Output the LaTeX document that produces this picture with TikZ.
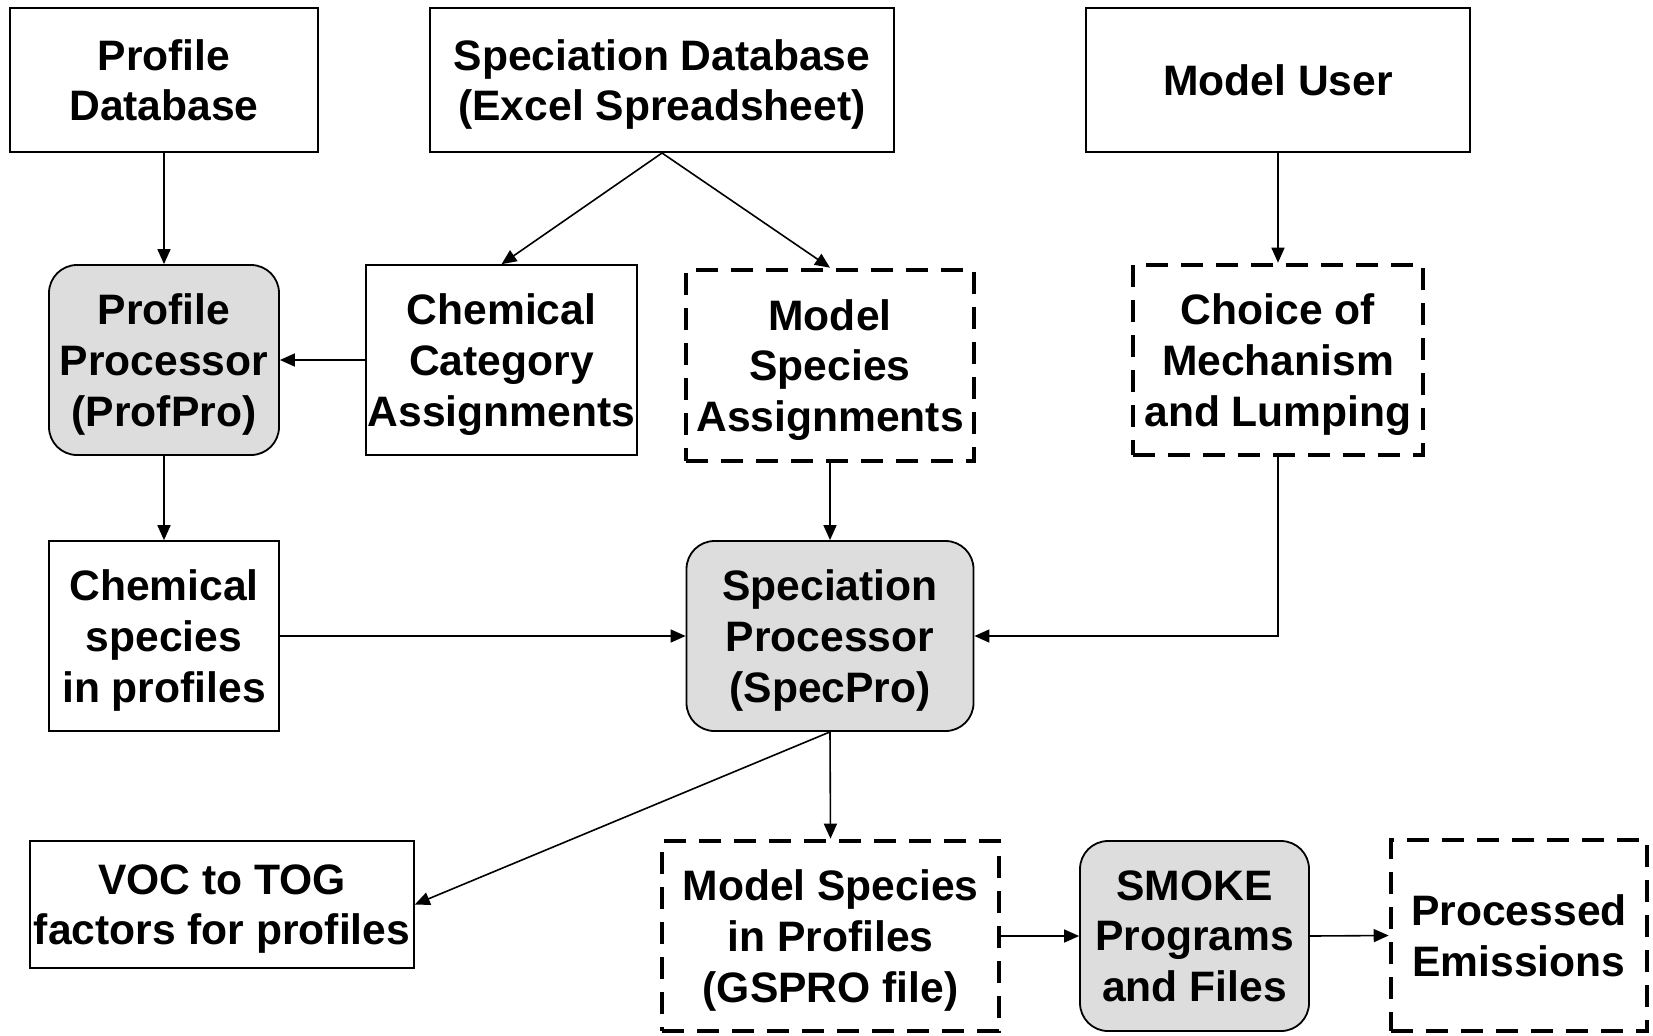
\documentclass[tikz,border=0pt]{standalone}
\usepackage{fontspec}
\setmainfont{Liberation Sans}
\usetikzlibrary{arrows.meta}
\newcommand\diagfont{\fontsize{21.3}{25.3}\selectfont\bfseries}
\begin{document}
\begin{tikzpicture}[x=0.5pt,y=-0.5pt,
  base/.style={inner sep=0pt, align=center, font=\diagfont, text depth=-2pt},
  plainbox/.style={base, draw, line width=1pt},
  thinbox/.style={base, draw, line width=0.8pt},
  procbox/.style={base, draw, line width=0.9pt, fill=gray!27, rounded corners=14pt},
  dashbox/.style={base, draw, line width=2.3pt, dash pattern=on 11pt off 6.5pt},
  flow/.style={line width=0.8pt, -{Triangle[length=7.5pt,width=6.5pt]}}]
\useasboundingbox (0,0) rectangle (1653,1035);

% sources
\node[plainbox, minimum width=154pt, minimum height=72pt] (pdb) at (164,80) {Profile\\Database};
\node[plainbox, minimum width=232pt, minimum height=72pt] (sdb) at (662,80) {Speciation Database\\(Excel Spreadsheet)};
\node[plainbox, minimum width=192pt, minimum height=72pt] (mu) at (1278,80) {Model User};

% second row
\node[procbox, minimum width=115pt, minimum height=95pt] (pp) at (164,360) {Profile\\Processor\\(ProfPro)};
\node[thinbox, minimum width=135.5pt, minimum height=95pt] (cca) at (501.5,360) {Chemical\\Category\\Assignments};
\node[dashbox, minimum width=144pt, minimum height=95.5pt] (msa) at (830,365.5) {Model\\Species\\Assignments};
\node[dashbox, minimum width=145pt, minimum height=95pt] (cml) at (1278,360) {Choice of\\Mechanism\\and Lumping};

% third row
\node[thinbox, minimum width=115pt, minimum height=95pt] (csp) at (164,636) {Chemical\\species\\in profiles};
\node[procbox, minimum width=143.5pt, minimum height=95pt] (spp) at (830,636) {Speciation\\Processor\\(SpecPro)};

% outputs
\node[thinbox, minimum width=192pt, minimum height=63.5pt] (voc) at (222,904.5) {VOC to TOG\\factors for profiles};
\node[dashbox, minimum width=168.5pt, minimum height=95pt] (msp) at (830.5,936) {Model Species\\in Profiles\\(GSPRO file)};
\node[procbox, minimum width=114.5pt, minimum height=95pt] (smk) at (1194.5,936) {SMOKE\\Programs\\and Files};
\node[dashbox, minimum width=128pt, minimum height=95.5pt] (pe) at (1519,935.5) {Processed\\Emissions};

% connectors
\draw[flow] (pdb.south) -- (pp.north);
\draw[flow] (sdb.south) -- (cca.north);
\draw[flow] (sdb.south) -- (msa.north);
\draw[flow] (mu.south) -- (cml.north);
\draw[flow] (cca.west) -- (pp.east);
\draw[flow] (pp.south) -- (csp.north);
\draw[flow] (msa.south) -- (spp.north);
\draw[flow] (csp.east) -- (spp.west);
\draw[flow] (cml.south) |- (spp.east);
\draw[flow] (spp.south) -- (voc.east);
\draw[flow] (spp.south) -- (msp.north);
\draw[flow] (msp.east) -- (smk.west);
\draw[flow] (smk.east) -- (pe.west);
\end{tikzpicture}
\end{document}
